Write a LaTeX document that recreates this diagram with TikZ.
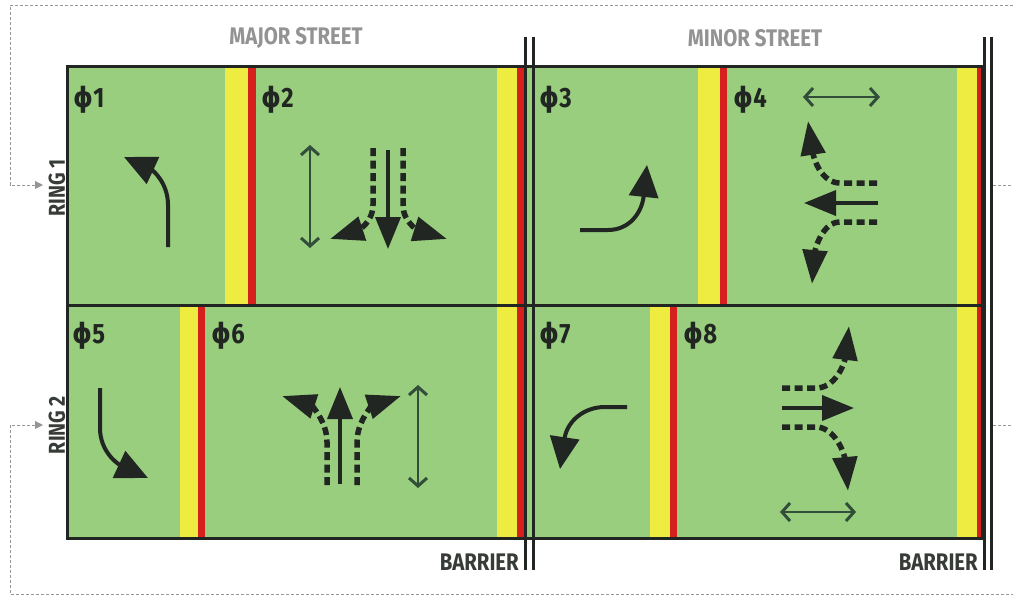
\documentclass[tikz,border=0pt]{standalone}
\usepackage{fontspec}
\setmainfont{Fira Sans}[FakeStretch=0.85]
\newfontfamily\phifont{DejaVu Sans}[FakeStretch=0.9]
\usetikzlibrary{arrows.meta}
\definecolor{fieldgreen}{RGB}{152,206,126}
\definecolor{amber}{RGB}{238,236,64}
\definecolor{stopred}{RGB}{214,32,30}
\definecolor{inkdark}{RGB}{34,38,34}
\definecolor{pedgreen}{RGB}{50,78,58}
\definecolor{frameg}{RGB}{150,150,150}
\newcommand{\ph}{{\phifont ϕ}}
\tikzset{
  frame/.style={draw=frameg,line width=0.9pt,dash pattern=on 3pt off 2pt},
  turnarrow/.style={draw=inkdark,line width=4pt,-{Triangle[length=32pt,width=29pt]}},
  thru/.style={draw=inkdark,line width=3.8pt,-{Triangle[length=32pt,width=25pt]}},
  dashturn/.style={draw=inkdark,line width=5.5pt,dash pattern=on 8pt off 4.5pt,-{Triangle[length=34pt,width=24pt]}},
  ped/.style={draw=pedgreen,line width=2pt,{Straight Barb[length=8pt,width=18pt,line width=3pt]}-{Straight Barb[length=8pt,width=18pt,line width=3pt]}},
  phase/.style={anchor=west,text=inkdark,font=\bfseries\fontsize{28}{28}\selectfont,inner sep=0pt},
  street/.style={text=gray!85,font=\bfseries\fontsize{24}{24}\selectfont,inner sep=0pt},
  ringlbl/.style={text=inkdark!90,font=\bfseries\fontsize{23}{23}\selectfont,inner sep=0pt,rotate=90},
  barlbl/.style={anchor=east,text=inkdark!90,font=\bfseries\fontsize{24}{24}\selectfont,inner sep=0pt},
  barrierline/.style={draw=inkdark,line width=3pt}
}
\begin{document}
\begin{tikzpicture}[x=1pt,y=-1pt]
\useasboundingbox (0,0) rectangle (1013,602);
\fill[white] (0,0) rectangle (1013,602);
% outer dashed frame
\draw[frame,{Triangle[length=8pt,width=8pt]}-] (43,185) -- (10,185) -- (10,5) -- (1013,5);
\draw[frame,{Triangle[length=8pt,width=8pt]}-] (43,425) -- (10,425) -- (10,594) -- (1013,594);
\draw[frame] (993,185) -- (1013,185);
\draw[frame] (993,425) -- (1013,425);
% green field
\fill[fieldgreen] (67,67) rectangle (982,538);
% clearance strips ring 1
\fill[amber] (225,67) rectangle (248,305);
\fill[stopred] (248,67) rectangle (256,305);
\fill[amber] (698,67) rectangle (720,305);
\fill[stopred] (720,67) rectangle (727,305);
% ring 2
\fill[amber] (180,305) rectangle (198,538);
\fill[stopred] (198,305) rectangle (205,538);
\fill[amber] (650,305) rectangle (670,538);
\fill[stopred] (670,305) rectangle (677,538);
% barrier strips
\fill[amber] (497,67) rectangle (517,538);
\fill[stopred] (517,67) rectangle (525,538);
\fill[amber] (957,67) rectangle (977,538);
\fill[stopred] (977,67) rectangle (982,538);
% borders
\draw[draw=inkdark,line width=3pt] (67,67) rectangle (982,538);
\draw[draw=inkdark,line width=3pt] (67,305) -- (982,305);
% barriers
\draw[barrierline] (525,37) -- (525,570);
\draw[barrierline] (533,37) -- (533,570);
\draw[barrierline] (984,37) -- (984,570);
\draw[barrierline] (991,37) -- (991,570);
% labels
\node[street] (major) at (296,38) {MAJOR STREET};
\node[street] (minor) at (755,38) {MINOR STREET};
\node[ringlbl] (ring1) at (57,188) {RING 1};
\node[ringlbl] (ring2) at (57,425) {RING 2};
\node[barlbl] (bar1) at (519,562) {BARRIER};
\node[barlbl] (bar2) at (978,562) {BARRIER};
\node[phase] (p1) at (73,100) {\ph1};
\node[phase] (p2) at (261,100) {\ph2};
\node[phase] (p3) at (539,100) {\ph3};
\node[phase] (p4) at (733,100) {\ph4};
\node[phase] (p5) at (72,336) {\ph5};
\node[phase] (p6) at (211,336) {\ph6};
\node[phase] (p7) at (539,336) {\ph7};
\node[phase] (p8) at (683,336) {\ph8};
% phi1 left turn
\draw[turnarrow] (168,247) -- (168,205) .. controls (168,182) and (152,170) .. (124,157);
% phi2
\draw[ped] (310,145) -- (310,248);
\draw[dashturn] (373,148) -- (373,205) .. controls (373,222) and (358,230) .. (330,239);
\draw[dashturn] (403,148) -- (403,205) .. controls (403,222) and (418,230) .. (447,239);
\draw[thru] (388,150) -- (388,249);
% phi3
\draw[turnarrow] (580,230) -- (608,230) .. controls (630,230) and (642,212) .. (647,165);
% phi4
\draw[ped] (803,97) -- (880,97);
\draw[dashturn] (877,183) -- (840,183) .. controls (822,183) and (814,160) .. (808,121);
\draw[dashturn] (877,222) -- (840,222) .. controls (822,222) and (815,250) .. (812,284);
\draw[thru] (878,203) -- (804,203);
% phi5
\draw[turnarrow] (100,388) -- (100,428) .. controls (100,452) and (118,464) .. (148,478);
% phi6
\draw[dashturn] (327,485) -- (327,442) .. controls (327,420) and (310,405) .. (282,396);
\draw[dashturn] (357,485) -- (357,442) .. controls (357,420) and (374,405) .. (401,396);
\draw[thru] (340,484) -- (340,387);
\draw[ped] (418,385) -- (418,488);
% phi7
\draw[turnarrow] (627,407) -- (605,407) .. controls (583,407) and (567,422) .. (560,469);
% phi8
\draw[dashturn] (782,388) -- (818,388) .. controls (838,386) and (845,360) .. (849,326);
\draw[dashturn] (782,427) -- (818,427) .. controls (838,430) and (845,458) .. (848,491);
\draw[thru] (782,408) -- (854,408);
\draw[ped] (780,512) -- (856,512);
\end{tikzpicture}
\end{document}
